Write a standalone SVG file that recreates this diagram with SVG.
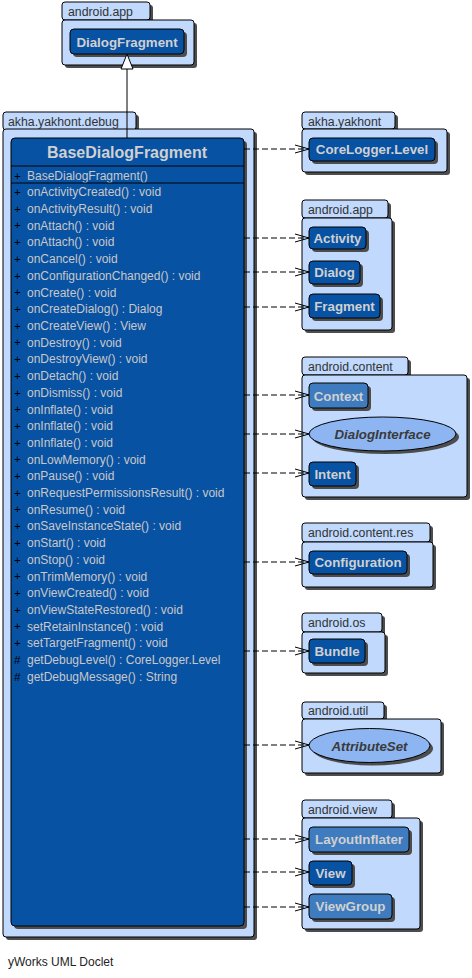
<svg xmlns="http://www.w3.org/2000/svg" width="472" height="978" viewBox="0 0 472 978">
<style>
.sh{fill:#4d4d4d}
.pk{fill:#c0d9fd;stroke:#000;stroke-width:1}
.pl{font-family:"Liberation Sans",Arial,sans-serif;font-size:12.3px;fill:#333}
.cn{fill:#0852a3;stroke:#000;stroke-width:1}
.ca{fill:#3e7cbf;stroke:#000;stroke-width:1}
.ie{fill:#8db5f2;stroke:#000;stroke-width:1}
.nl{font-family:"Liberation Sans",Arial,sans-serif;font-size:13.3px;font-weight:bold;fill:#d0d0d0;text-anchor:middle}
.il{font-family:"Liberation Sans",Arial,sans-serif;font-size:13.3px;font-weight:bold;font-style:italic;fill:#3a3a3a;text-anchor:middle}
.mt{font-family:"Liberation Sans",Arial,sans-serif;font-size:12px;fill:#c8c8c8}
.vs{font-family:"Liberation Sans",Arial,sans-serif;font-size:11.6px;fill:#000}
.dep{fill:none;stroke:#000;stroke-width:1;stroke-dasharray:6,3}
</style>
<defs>
<marker id="open" markerWidth="16" markerHeight="10" refX="15" refY="5" orient="auto" markerUnits="userSpaceOnUse">
<path d="M1,1 L15,5 L1,9" fill="none" stroke="#000" stroke-width="1"/>
</marker>
</defs>

<!-- package android.app (top) -->
<g id="pkg-android-app-top">
<rect class="sh" x="65" y="5" width="88" height="18" rx="3"/>
<rect class="sh" x="65" y="23" width="132" height="45" rx="3"/>
<rect class="pk" x="62" y="2" width="88" height="18" rx="3"/>
<rect class="pk" x="62" y="20" width="132" height="45" rx="3"/>
<text class="pl" x="68" y="16">android.app</text>
</g>
<g id="DialogFragment">
<rect class="sh" x="73" y="32" width="114" height="25" rx="4"/>
<rect class="cn" x="70" y="29" width="114" height="25" rx="4"/>
<text class="nl" x="127" y="46.5">DialogFragment</text>
</g>

<!-- package akha.yakhont.debug -->
<g id="pkg-akha-yakhont-debug">
<rect class="sh" x="6" y="115" width="133" height="18" rx="3"/>
<rect class="sh" x="6" y="132" width="251" height="808" rx="3"/>
<rect class="pk" x="3" y="112" width="133" height="18" rx="3"/>
<rect class="pk" x="3" y="129" width="251" height="808" rx="3"/>
<text class="pl" x="8" y="126">akha.yakhont.debug</text>
</g>
<g id="BaseDialogFragment">
<rect class="sh" x="14" y="141" width="233" height="788" rx="4"/>
<rect class="cn" x="11" y="138" width="233" height="788" rx="4"/>
<text class="nl" x="127" y="158" style="font-size:16px">BaseDialogFragment</text>
<line x1="11" y1="166" x2="244" y2="166" stroke="#000"/>
<text class="vs" x="14" y="179.5">+</text>
<text class="mt" x="27" y="179.7">BaseDialogFragment()</text>
<line x1="11" y1="183" x2="244" y2="183" stroke="#000"/>
<text class="vs" x="14" y="196"><tspan x="14">+</tspan><tspan x="14" dy="16.71">+</tspan><tspan x="14" dy="16.71">+</tspan><tspan x="14" dy="16.71">+</tspan><tspan x="14" dy="16.71">+</tspan><tspan x="14" dy="16.71">+</tspan><tspan x="14" dy="16.71">+</tspan><tspan x="14" dy="16.71">+</tspan><tspan x="14" dy="16.71">+</tspan><tspan x="14" dy="16.71">+</tspan><tspan x="14" dy="16.71">+</tspan><tspan x="14" dy="16.71">+</tspan><tspan x="14" dy="16.71">+</tspan><tspan x="14" dy="16.71">+</tspan><tspan x="14" dy="16.71">+</tspan><tspan x="14" dy="16.71">+</tspan><tspan x="14" dy="16.71">+</tspan><tspan x="14" dy="16.71">+</tspan><tspan x="14" dy="16.71">+</tspan><tspan x="14" dy="16.71">+</tspan><tspan x="14" dy="16.71">+</tspan><tspan x="14" dy="16.71">+</tspan><tspan x="14" dy="16.71">+</tspan><tspan x="14" dy="16.71">+</tspan><tspan x="14" dy="16.71">+</tspan><tspan x="14" dy="16.71">+</tspan><tspan x="14" dy="16.71">+</tspan><tspan x="14" dy="16.71">+</tspan><tspan x="14" dy="16.71">#</tspan><tspan x="14" dy="16.71">#</tspan></text>
<text class="mt" x="27" y="196.3"><tspan x="27">onActivityCreated() : void</tspan><tspan x="27" dy="16.71">onActivityResult() : void</tspan><tspan x="27" dy="16.71">onAttach() : void</tspan><tspan x="27" dy="16.71">onAttach() : void</tspan><tspan x="27" dy="16.71">onCancel() : void</tspan><tspan x="27" dy="16.71">onConfigurationChanged() : void</tspan><tspan x="27" dy="16.71">onCreate() : void</tspan><tspan x="27" dy="16.71">onCreateDialog() : Dialog</tspan><tspan x="27" dy="16.71">onCreateView() : View</tspan><tspan x="27" dy="16.71">onDestroy() : void</tspan><tspan x="27" dy="16.71">onDestroyView() : void</tspan><tspan x="27" dy="16.71">onDetach() : void</tspan><tspan x="27" dy="16.71">onDismiss() : void</tspan><tspan x="27" dy="16.71">onInflate() : void</tspan><tspan x="27" dy="16.71">onInflate() : void</tspan><tspan x="27" dy="16.71">onInflate() : void</tspan><tspan x="27" dy="16.71">onLowMemory() : void</tspan><tspan x="27" dy="16.71">onPause() : void</tspan><tspan x="27" dy="16.71">onRequestPermissionsResult() : void</tspan><tspan x="27" dy="16.71">onResume() : void</tspan><tspan x="27" dy="16.71">onSaveInstanceState() : void</tspan><tspan x="27" dy="16.71">onStart() : void</tspan><tspan x="27" dy="16.71">onStop() : void</tspan><tspan x="27" dy="16.71">onTrimMemory() : void</tspan><tspan x="27" dy="16.71">onViewCreated() : void</tspan><tspan x="27" dy="16.71">onViewStateRestored() : void</tspan><tspan x="27" dy="16.71">setRetainInstance() : void</tspan><tspan x="27" dy="16.71">setTargetFragment() : void</tspan><tspan x="27" dy="16.71">getDebugLevel() : CoreLogger.Level</tspan><tspan x="27" dy="16.71">getDebugMessage() : String</tspan></text>
</g>

<!-- package akha.yakhont -->
<g id="pkg-akha-yakhont">
<rect class="sh" x="305" y="115" width="93" height="17" rx="3"/>
<rect class="sh" x="305" y="132" width="145" height="43" rx="3"/>
<rect class="pk" x="302" y="112" width="93" height="17" rx="3"/>
<rect class="pk" x="302" y="129" width="145" height="43" rx="3"/>
<text class="pl" x="308" y="126">akha.yakhont</text>
</g>
<g id="CoreLogger.Level">
<rect class="sh" x="312" y="141" width="126" height="23" rx="4"/>
<rect class="cn" x="309" y="138" width="126" height="23" rx="4"/>
<text class="nl" x="372" y="154">CoreLogger.Level</text>
</g>

<!-- package android.app (right) -->
<g id="pkg-android-app">
<rect class="sh" x="305" y="203" width="86" height="18" rx="3"/>
<rect class="sh" x="305" y="221" width="90" height="112" rx="3"/>
<rect class="pk" x="302" y="200" width="86" height="18" rx="3"/>
<rect class="pk" x="302" y="218" width="90" height="112" rx="3"/>
<text class="pl" x="308" y="214">android.app</text>
</g>
<g id="Activity">
<rect class="sh" x="312" y="230" width="57" height="22" rx="4"/>
<rect class="cn" x="309" y="227" width="57" height="22" rx="4"/>
<text class="nl" x="337.5" y="243">Activity</text>
</g>
<g id="Dialog">
<rect class="sh" x="312" y="264" width="51" height="23" rx="4"/>
<rect class="cn" x="309" y="261" width="51" height="23" rx="4"/>
<text class="nl" x="334.5" y="277">Dialog</text>
</g>
<g id="Fragment">
<rect class="sh" x="312" y="297" width="71" height="24" rx="4"/>
<rect class="cn" x="309" y="294" width="71" height="24" rx="4"/>
<text class="nl" x="344.5" y="311">Fragment</text>
</g>

<!-- package android.content -->
<g id="pkg-android-content">
<rect class="sh" x="305" y="360" width="106" height="18" rx="3"/>
<rect class="sh" x="305" y="378" width="165" height="122" rx="3"/>
<rect class="pk" x="302" y="357" width="106" height="18" rx="3"/>
<rect class="pk" x="302" y="375" width="165" height="122" rx="3"/>
<text class="pl" x="308" y="371">android.content</text>
</g>
<g id="Context">
<rect class="sh" x="312" y="386" width="59" height="25" rx="4"/>
<rect class="ca" x="309" y="383" width="59" height="25" rx="4"/>
<text class="nl" x="338.5" y="400.5">Context</text>
</g>
<g id="DialogInterface">
<ellipse class="sh" cx="385.5" cy="437" rx="73.5" ry="17"/>
<ellipse class="ie" cx="382.5" cy="434" rx="73.5" ry="17"/>
<text class="il" x="382.5" y="439">DialogInterface</text>
</g>
<g id="Intent">
<rect class="sh" x="312" y="465" width="47" height="24" rx="4"/>
<rect class="cn" x="309" y="462" width="47" height="24" rx="4"/>
<text class="nl" x="332.5" y="479">Intent</text>
</g>

<!-- package android.content.res -->
<g id="pkg-android-content-res">
<rect class="sh" x="305" y="526" width="128" height="19" rx="3"/>
<rect class="sh" x="305" y="545" width="131" height="45" rx="3"/>
<rect class="pk" x="302" y="523" width="128" height="19" rx="3"/>
<rect class="pk" x="302" y="542" width="131" height="45" rx="3"/>
<text class="pl" x="308" y="537">android.content.res</text>
</g>
<g id="Configuration">
<rect class="sh" x="312" y="554" width="98" height="23" rx="4"/>
<rect class="cn" x="309" y="551" width="98" height="23" rx="4"/>
<text class="nl" x="358" y="567">Configuration</text>
</g>

<!-- package android.os -->
<g id="pkg-android-os">
<rect class="sh" x="305" y="616" width="80" height="19" rx="3"/>
<rect class="sh" x="305" y="635" width="83" height="41" rx="3"/>
<rect class="pk" x="302" y="613" width="80" height="19" rx="3"/>
<rect class="pk" x="302" y="632" width="83" height="41" rx="3"/>
<text class="pl" x="308" y="627">android.os</text>
</g>
<g id="Bundle">
<rect class="sh" x="312" y="642" width="56" height="24" rx="4"/>
<rect class="cn" x="309" y="639" width="56" height="24" rx="4"/>
<text class="nl" x="337" y="656">Bundle</text>
</g>

<!-- package android.util -->
<g id="pkg-android-util">
<rect class="sh" x="305" y="705" width="82" height="17" rx="3"/>
<rect class="sh" x="305" y="722" width="139" height="54" rx="3"/>
<rect class="pk" x="302" y="702" width="82" height="17" rx="3"/>
<rect class="pk" x="302" y="719" width="139" height="54" rx="3"/>
<text class="pl" x="308" y="715">android.util</text>
</g>
<g id="AttributeSet">
<ellipse class="sh" cx="372.5" cy="748.5" rx="60.5" ry="17"/>
<ellipse class="ie" cx="369.5" cy="745.5" rx="60.5" ry="17"/>
<text class="il" x="369.5" y="750.5">AttributeSet</text>
</g>

<!-- package android.view -->
<g id="pkg-android-view">
<rect class="sh" x="305" y="803" width="90" height="18" rx="3"/>
<rect class="sh" x="305" y="821" width="118" height="111" rx="3"/>
<rect class="pk" x="302" y="800" width="90" height="18" rx="3"/>
<rect class="pk" x="302" y="818" width="118" height="111" rx="3"/>
<text class="pl" x="308" y="814">android.view</text>
</g>
<g id="LayoutInflater">
<rect class="sh" x="312" y="830" width="100" height="25" rx="4"/>
<rect class="ca" x="309" y="827" width="100" height="25" rx="4"/>
<text class="nl" x="359" y="844">LayoutInflater</text>
</g>
<g id="View">
<rect class="sh" x="312" y="864" width="43" height="24" rx="4"/>
<rect class="cn" x="309" y="861" width="43" height="24" rx="4"/>
<text class="nl" x="330.5" y="878">View</text>
</g>
<g id="ViewGroup">
<rect class="sh" x="312" y="897" width="83" height="25" rx="4"/>
<rect class="ca" x="309" y="894" width="83" height="25" rx="4"/>
<text class="nl" x="350.5" y="911">ViewGroup</text>
</g>

<!-- connectors -->
<g id="connectors">
<line x1="127" y1="138" x2="127" y2="69" stroke="#000" stroke-width="1"/>
<path d="M127,54 L133,69 L121,69 Z" fill="#fff" stroke="#000" stroke-width="1"/>
<line class="dep" x1="244" y1="149" x2="309" y2="149" marker-end="url(#open)"/>
<line class="dep" x1="244" y1="238" x2="309" y2="238" marker-end="url(#open)"/>
<line class="dep" x1="244" y1="272" x2="309" y2="272" marker-end="url(#open)"/>
<line class="dep" x1="244" y1="307" x2="309" y2="307" marker-end="url(#open)"/>
<line class="dep" x1="244" y1="395" x2="309" y2="395" marker-end="url(#open)"/>
<line class="dep" x1="244" y1="434" x2="309" y2="434" marker-end="url(#open)"/>
<line class="dep" x1="244" y1="473" x2="309" y2="473" marker-end="url(#open)"/>
<line class="dep" x1="244" y1="562" x2="309" y2="562" marker-end="url(#open)"/>
<line class="dep" x1="244" y1="651" x2="309" y2="651" marker-end="url(#open)"/>
<line class="dep" x1="244" y1="745" x2="309" y2="745" marker-end="url(#open)"/>
<line class="dep" x1="244" y1="839" x2="309" y2="839" marker-end="url(#open)"/>
<line class="dep" x1="244" y1="872" x2="309" y2="872" marker-end="url(#open)"/>
<line class="dep" x1="244" y1="907" x2="309" y2="907" marker-end="url(#open)"/>
</g>

<text x="8" y="966" style="font-family:'Liberation Sans',Arial,sans-serif;font-size:12px;fill:#222">yWorks UML Doclet</text>
</svg>
